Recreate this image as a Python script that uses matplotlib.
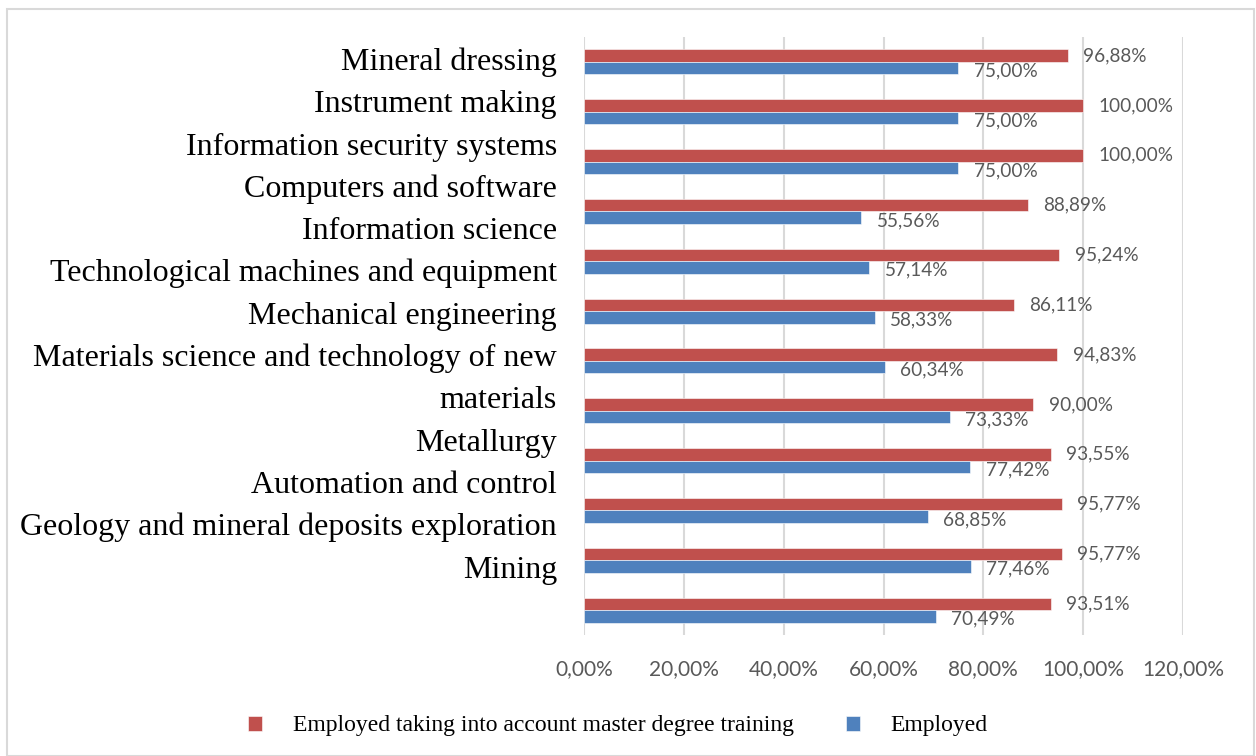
import numpy as np
import matplotlib.pyplot as plt
from matplotlib.patches import Rectangle
from matplotlib.ticker import FuncFormatter

# Data (top to bottom as drawn)
label_lines = [
    'Mineral dressing',
    'Instrument making',
    'Information security systems',
    'Computers and software',
    'Information science',
    'Technological machines and equipment',
    'Mechanical engineering',
    'Materials science and technology of new',
    'materials',
    'Metallurgy',
    'Automation and control',
    'Geology and mineral deposits exploration',
    'Mining',
]
employed_master = [96.88, 100.00, 100.00, 88.89, 95.24, 86.11, 94.83, 90.00, 93.55, 95.77, 95.77, 93.51]
employed = [75.00, 75.00, 75.00, 55.56, 57.14, 58.33, 60.34, 73.33, 77.42, 68.85, 77.46, 70.49]
xticks = [0, 20, 40, 60, 80, 100, 120]

red = '#C0504D'
blue = '#4F81BD'
gray_txt = '#595959'
W, H = 1256, 756

fig = plt.figure(figsize=(W / 100, H / 100), dpi=100)
ax = fig.add_axes([584 / W, 1 - 635 / H, (1183 - 584) / W, (635 - 37) / H])

y = np.arange(len(employed))
bh = 0.25
ax.barh(y - bh / 2, employed_master, height=bh, color=red, edgecolor='white', linewidth=0.4,
        label='Employed taking into account master degree training', zorder=3)
ax.barh(y + bh / 2, employed, height=bh, color=blue, edgecolor='white', linewidth=0.4,
        label='Employed', zorder=3)

def pct(v):
    return f'{v:.2f}%'.replace('.', ',')

for yi, v in zip(y, employed_master):
    ax.annotate(pct(v), (v, yi - bh / 2), xytext=(11, 0), textcoords='offset points',
                va='center', ha='left', fontsize=13.7, color=gray_txt, family='Lato')
for yi, v in zip(y, employed):
    ax.annotate(pct(v), (v, yi + bh / 2), xytext=(11, -2), textcoords='offset points',
                va='center', ha='left', fontsize=13.7, color=gray_txt, family='Lato')

ax.set_xlim(0, 120)
ax.set_ylim(len(employed) - 0.5, -0.5)
ax.set_xticks(xticks)
ax.xaxis.set_major_formatter(FuncFormatter(lambda v, p: pct(v)))
ax.set_yticks([])
ax.tick_params(axis='x', length=0, pad=17, labelsize=15, labelcolor=gray_txt)
for t in ax.get_xticklabels():
    t.set_family('Lato')
ax.grid(axis='x', color='#D9D9D9', linewidth=1.5, zorder=0)
for s in ax.spines.values():
    s.set_visible(False)

# category labels as a text column on the left
for i, line in enumerate(label_lines):
    fig.text(557 / W, 1 - (70 + 42.3 * i) / H, line, ha='right', va='baseline',
             fontsize=23, family='Liberation Serif', color='black')

# legend
fig.legend(loc='center', bbox_to_anchor=(618 / W, 1 - 726 / H), ncol=2, frameon=False,
           prop={'family': 'Liberation Serif', 'size': 17}, handlelength=0.6, handleheight=0.6,
           handletextpad=1.3, columnspacing=2.2)

# outer chart frame
fig.patches.append(Rectangle((7 / W, 0), (1254 - 7) / W, (H - 9) / H, transform=fig.transFigure,
                             fill=False, edgecolor='#D9D9D9', linewidth=1.5))

fig.savefig('out.png', dpi=100)
